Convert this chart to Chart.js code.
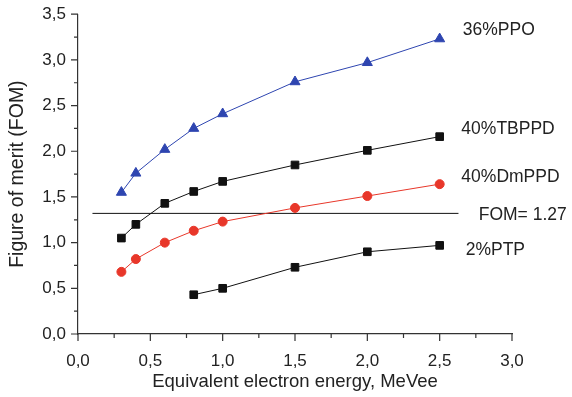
<!DOCTYPE html>
<html lang="en">
<head>
    <meta charset="UTF-8">
    <title>Figure of merit</title>
    <style>
        * { margin: 0; padding: 0; box-sizing: border-box; }
        body { background: #fff; }
        .wrap { width: 572px; height: 397px; }
    </style>
</head>
<body>
    <div class="wrap"><canvas id="fomChart" width="572" height="397"></canvas></div>

    <script src="https://cdn.jsdelivr.net/npm/chart.js"></script>
    <script>
        // data
        var energy = [0.3, 0.4, 0.6, 0.8, 1.0, 1.5, 2.0, 2.5];
        var ppo36 = [1.55, 1.76, 2.02, 2.25, 2.41, 2.76, 2.97, 3.23];
        var tbppd40 = [1.05, 1.20, 1.43, 1.56, 1.67, 1.85, 2.01, 2.16];
        var dmppd40 = [0.68, 0.82, 1.00, 1.13, 1.23, 1.38, 1.51, 1.64];
        var ptpEnergy = [0.8, 1.0, 1.5, 2.0, 2.5];
        var ptp2 = [0.43, 0.50, 0.73, 0.90, 0.97];
        var fomX = [0.1, 2.63];
        var fomY = [1.32, 1.32];
        var xTicks = [0, 0.5, 1.0, 1.5, 2.0, 2.5, 3.0];
        var yTicks = [0, 0.5, 1.0, 1.5, 2.0, 2.5, 3.0, 3.5];

        // series labels on the right: [text, x, y]
        var seriesLabels = [
            ['36%PPO', 2.66, 3.32],
            ['40%TBPPD', 2.65, 2.24],
            ['40%DmPPD', 2.65, 1.72],
            ['FOM= 1.27', 2.77, 1.30],
            ['2%PTP', 2.68, 0.92]
        ];

        function pts(xs, ys) {
            return xs.map(function (x, i) { return { x: x, y: ys[i] }; });
        }
        function comma(v) { return v.toFixed(1).replace('.', ','); }

        var FONT = 'Liberation Sans, Arial, sans-serif';

        // outward major + minor ticks and right-hand labels
        var decor = {
            id: 'decor',
            afterDraw: function (chart) {
                var c = chart.ctx, xs = chart.scales.x, ys = chart.scales.y;
                var left = xs.left, bottom = ys.bottom;
                c.save();
                c.strokeStyle = '#333';
                c.lineWidth = 1.2;
                c.beginPath();
                for (var v = 0; v <= 3.0001; v += 0.25) {
                    var px = xs.getPixelForValue(v);
                    var len = Math.abs(v * 2 - Math.round(v * 2)) < 1e-6 ? 7 : 4;
                    c.moveTo(px, bottom);
                    c.lineTo(px, bottom + len);
                }
                for (var w = 0; w <= 3.5001; w += 0.25) {
                    var py = ys.getPixelForValue(w);
                    var len2 = Math.abs(w * 2 - Math.round(w * 2)) < 1e-6 ? 7 : 4;
                    c.moveTo(left, py);
                    c.lineTo(left - len2, py);
                }
                c.stroke();

                c.fillStyle = '#222';
                c.font = '17.5px ' + FONT;
                c.textBaseline = 'middle';
                c.textAlign = 'left';
                seriesLabels.forEach(function (l) {
                    c.fillText(l[0], xs.getPixelForValue(l[1]), ys.getPixelForValue(l[2]));
                });
                c.restore();
            }
        };

        var ctx = document.getElementById('fomChart').getContext('2d');
        var chart = new Chart(ctx, {
            type: 'line',
            data: {
                datasets: [{
                    label: '36%PPO',
                    data: pts(energy, ppo36),
                    borderColor: '#2e45b0',
                    backgroundColor: '#2e45b0',
                    borderWidth: 1,
                    pointStyle: 'triangle',
                    pointRadius: 5.8
                }, {
                    label: '40%TBPPD',
                    data: pts(energy, tbppd40),
                    borderColor: '#111',
                    backgroundColor: '#111',
                    borderWidth: 1,
                    pointStyle: 'rect',
                    pointRadius: 5.4
                }, {
                    label: '40%DmPPD',
                    data: pts(energy, dmppd40),
                    borderColor: '#e8372a',
                    backgroundColor: '#e8372a',
                    borderWidth: 1,
                    pointStyle: 'circle',
                    pointRadius: 4.5
                }, {
                    label: '2%PTP',
                    data: pts(ptpEnergy, ptp2),
                    borderColor: '#111',
                    backgroundColor: '#111',
                    borderWidth: 1,
                    pointStyle: 'rect',
                    pointRadius: 5.4
                }, {
                    label: 'FOM',
                    data: pts(fomX, fomY),
                    borderColor: '#111',
                    borderWidth: 1,
                    pointRadius: 0
                }]
            },
            options: {
                responsive: false,
                animation: false,
                layout: { padding: { left: 0, right: 60, top: 14, bottom: 0 } },
                plugins: { legend: { display: false }, tooltip: { enabled: false } },
                scales: {
                    x: {
                        type: 'linear',
                        min: 0,
                        max: 3.0,
                        afterBuildTicks: function (s) { s.ticks = xTicks.map(function (v) { return { value: v }; }); },
                        afterFit: function (s) { s.height = 63; },
                        grid: { display: false },
                        border: { display: true, color: '#333', width: 1.2 },
                        ticks: {
                            color: '#222',
                            font: { family: FONT, size: 17 },
                            padding: 9,
                            maxRotation: 0,
                            callback: function (v) { return comma(v); }
                        },
                        title: {
                            display: true,
                            text: 'Equivalent electron energy, MeVee',
                            color: '#222',
                            font: { family: FONT, size: 18.5 },
                            padding: { top: 4 }
                        }
                    },
                    y: {
                        type: 'linear',
                        min: 0,
                        max: 3.5,
                        afterBuildTicks: function (s) { s.ticks = yTicks.map(function (v) { return { value: v }; }); },
                        afterFit: function (s) { s.width = 78; },
                        grid: { display: false },
                        border: { display: true, color: '#333', width: 1.2 },
                        ticks: {
                            color: '#222',
                            font: { family: FONT, size: 17 },
                            padding: 4,
                            callback: function (v) { return comma(v); }
                        },
                        title: {
                            display: true,
                            text: 'Figure of merit (FOM)',
                            color: '#222',
                            font: { family: FONT, size: 19.5 },
                            padding: { top: 6, bottom: 0 }
                        }
                    }
                }
            },
            plugins: [decor]
        });
    </script>
</body>
</html>
